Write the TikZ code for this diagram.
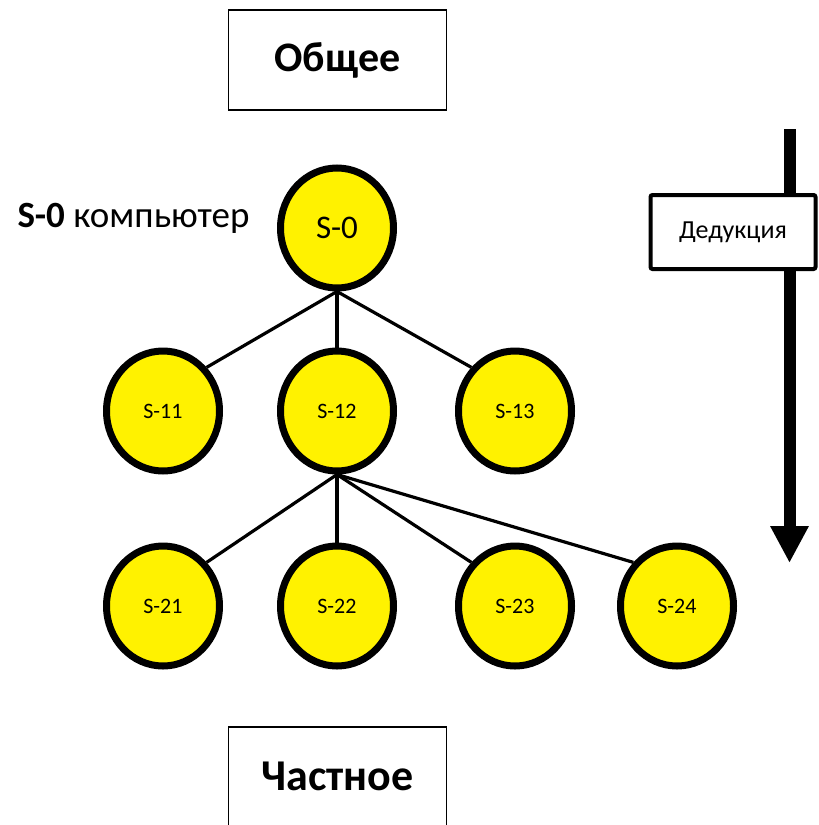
\documentclass[tikz,border=0pt]{standalone}
\usepackage{fontspec}
\setmainfont{Carlito}
\usetikzlibrary{shapes.geometric,arrows.meta}
\begin{document}
\begin{tikzpicture}[x=1pt,y=-1pt,
  snode/.style={ellipse,draw=black,fill=yellow,line width=7pt,minimum width=113pt,minimum height=120pt,inner sep=0pt,font=\fontsize{22}{26}\selectfont},
  bignode/.style={snode,font=\fontsize{33}{38}\selectfont},
  edge/.style={line width=3.2pt},
  titlebox/.style={draw=black,line width=1.5pt,minimum width=218pt,minimum height=100pt,inner sep=0pt,font=\fontsize{42}{48}\selectfont\bfseries},
  dedbox/.style={draw=black,fill=white,line width=4pt,rounded corners=2pt,minimum width=165pt,minimum height=74pt,inner sep=0pt,font=\fontsize{26}{30}\selectfont}]
\useasboundingbox (0,0) rectangle (819,825);
\fill[white] (0,0) rectangle (819,825);

\node[titlebox] (gen) at (337.5,60) {Общее};
\node[titlebox,anchor=north,font=\fontsize{44}{50}\selectfont\bfseries] (part) at (337.5,726) {Частное};

\node[bignode] (s0) at (337,228) {S-0};
\node[snode] (s11) at (163,411) {S-11};
\node[snode] (s12) at (337,411) {S-12};
\node[snode] (s13) at (515,411) {S-13};
\node[snode] (s21) at (163,606) {S-21};
\node[snode] (s22) at (337,606) {S-22};
\node[snode] (s23) at (515,606) {S-23};
\node[snode] (s24) at (677,606) {S-24};

\node[font=\fontsize{37}{42}\selectfont,anchor=west] (lbl) at (14,218) {\textbf{S-0} компьютер};

\draw[edge] (s0.south) -- (s11.45);
\draw[edge] (s0.south) -- (s12);
\draw[edge] (s0.south) -- (s13.135);
\draw[edge] (s12.south) -- (s21.45);
\draw[edge] (s12.south) -- (s22);
\draw[edge] (s12.south) -- (s23.135);
\draw[edge] (s12.south) -- (s24.135);

\coordinate (atop) at (789.5,129);
\coordinate (atip) at (789.5,563);
\draw[line width=12pt,-{Triangle[width=36pt,length=37pt]}] (atop) -- (atip);
\node[dedbox] (ded) at (733,232) {Дедукция};
\end{tikzpicture}
\end{document}
